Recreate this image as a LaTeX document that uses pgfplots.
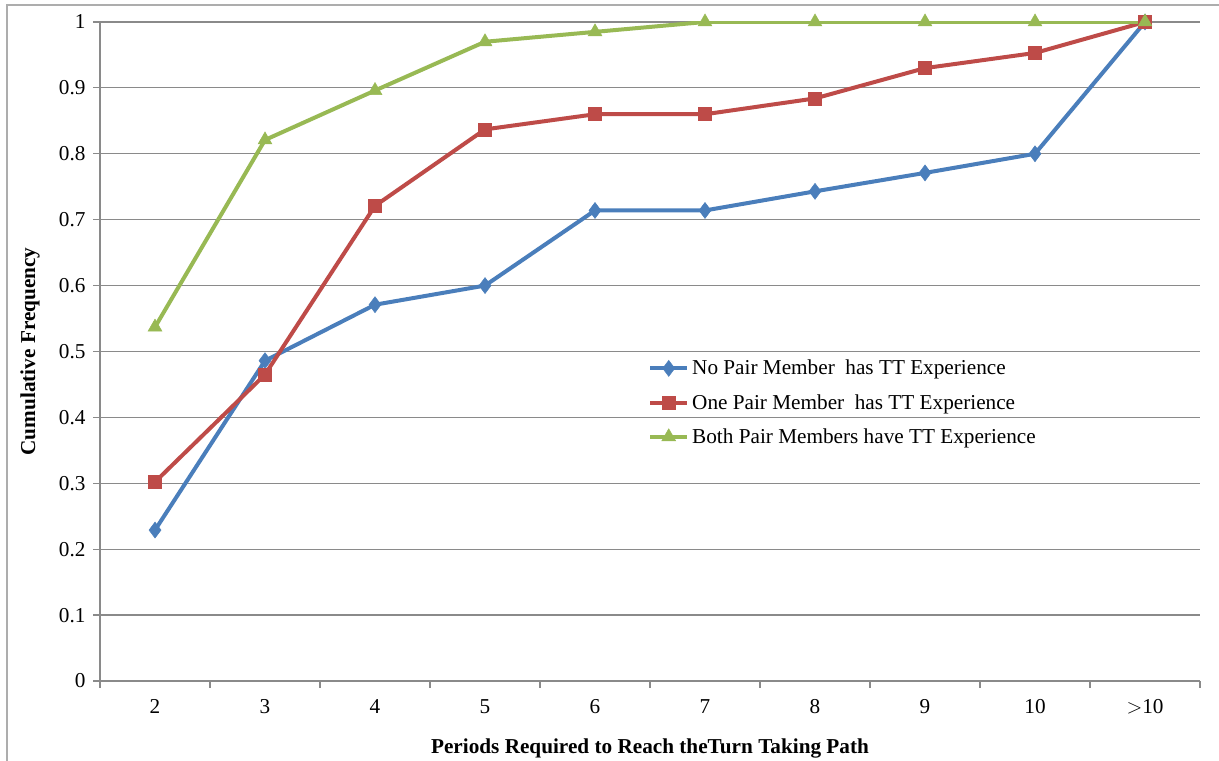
\documentclass[border=0pt]{standalone}
\usepackage{fontspec}
\setmainfont{Liberation Serif}
\usepackage{pgfplots}
\pgfplotsset{compat=1.18}
\definecolor{cblue}{HTML}{4A7EBB}
\definecolor{cred}{HTML}{BE4B48}
\definecolor{cgreen}{HTML}{98B954}
\definecolor{cgrid}{HTML}{8A8A8A}
\newcommand{\fs}{\fontsize{21.3}{25}\selectfont}
\begin{document}
\begin{tikzpicture}[x=1bp,y=1bp]
\useasboundingbox (0,0) rectangle (1219,761);
\draw[cgrid!70, line width=1.5bp] (7,0) -- (7,756) -- (1219,756);
\begin{axis}[
  at={(100bp,80bp)}, anchor=south west,
  scale only axis, width=1100bp, height=659bp,
  xmin=-0.5, xmax=9.5, ymin=0, ymax=1,
  axis x line*=bottom, axis y line*=left,
  axis line style={cgrid, line width=1.8bp, -},
  xtick={0,1,2,3,4,5,6,7,8,9},
  xticklabels={2,3,4,5,6,7,8,9,10,{$>$10}},
  major x tick style={draw=none},
  minor xtick={-0.5,0.5,...,9.5},
  minor x tick style={cgrid, line width=1.2bp},
  minor tick length=7bp,
  ytick={0,0.1,...,1},
  major tick length=7bp,
  y tick style={cgrid, line width=1.2bp},
  tick align=outside,
  ymajorgrids,
  grid style={cgrid, line width=1.2bp},
  /pgf/number format/assume math mode=true,
  ticklabel style={font=\fs},
  xticklabel style={yshift=-8bp},
  yticklabel style={xshift=-4bp},
  xlabel={\textbf{Periods Required to Reach theTurn Taking Path}},
  ylabel={\textbf{Cumulative Frequency}},
  xlabel style={at={(axis description cs:0.5,-0.1017)}, anchor=center, font=\fs},
  ylabel style={at={(axis description cs:-0.0636,0.5)}, anchor=center, font=\fs},
  legend style={at={(axis description cs:0.4982,0.490)}, anchor=north west,
    draw=none, fill=none, font=\fs, row sep=14bp, inner sep=0pt,
    nodes={inner xsep=3bp}},
  legend cell align=left,
  legend image code/.code={\draw[mark repeat=2,mark phase=2] plot coordinates {(0bp,0bp) (18.5bp,0bp) (37bp,0bp)};},
  every axis plot/.append style={line width=4bp},
]
\addplot[cblue, mark=diamond*, mark size=8bp, mark options={line width=0.5bp}] coordinates {
(0,0.229) (1,0.486) (2,0.571) (3,0.600) (4,0.714) (5,0.714) (6,0.743) (7,0.771) (8,0.800) (9,1.000)};
\addlegendentry{No Pair Member\ \ has TT Experience}
\addplot[cred, mark=square*, mark size=6.5bp, mark options={line width=0.5bp}] coordinates {
(0,0.302) (1,0.465) (2,0.721) (3,0.837) (4,0.860) (5,0.860) (6,0.884) (7,0.930) (8,0.953) (9,1.000)};
\addlegendentry{One Pair Member\ \ has TT Experience}
\addplot[cgreen, mark=triangle*, mark size=8bp, mark options={line width=0.5bp}] coordinates {
(0,0.537) (1,0.821) (2,0.896) (3,0.970) (4,0.985) (5,1.000) (6,1.000) (7,1.000) (8,1.000) (9,1.000)};
\addlegendentry{Both Pair Members have TT Experience}
\end{axis}
\end{tikzpicture}
\end{document}
